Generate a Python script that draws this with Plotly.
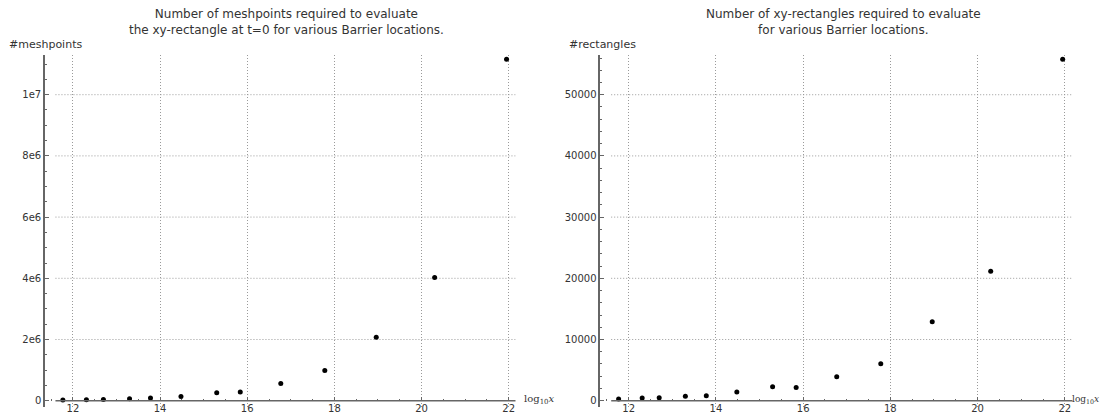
import plotly.graph_objects as go

# ---- data ----
log10_x = [11.77, 12.31, 12.70, 13.30, 13.78, 14.48, 15.30, 15.84, 16.77, 17.78, 18.96, 20.30, 21.95]
meshpoints = [20000, 30000, 40000, 65000, 85000, 140000, 260000, 283000, 565000,
              990000, 2075000, 4030000, 11160000]
rectangles = [270, 430, 490, 710, 820, 1410, 2280, 2170, 3910, 6030, 12900, 21150, 55800]

x_ticks = [12, 14, 16, 18, 20, 22]
mesh_ticks = [0, 2e6, 4e6, 6e6, 8e6, 1e7]
mesh_ticktext = ["0", "2e6", "4e6", "6e6", "8e6", "1e7"]
rect_ticks = [0, 10000, 20000, 30000, 40000, 50000]
rect_ticktext = ["0", "10000", "20000", "30000", "40000", "50000"]

title_left = "Number of meshpoints required to evaluate<br>the xy-rectangle at t=0 for various Barrier locations."
title_right = "Number of xy-rectangles required to evaluate<br>for various Barrier locations."
ylabel_left = "#meshpoints"
ylabel_right = "#rectangles"
xlabel = "log<sub>10</sub><i>x</i>"

# ---- layout constants ----
OFF = 8  # page body margin of the html page
W, H = 1112 - OFF, 416 - OFF
FONT = "DejaVu Sans, Verdana, sans-serif"
AXIS_COL = "#666666"
GRID_COL = "#9a9a9a"
TXT_COL = "#333333"
DOT = "1px,2px"

def px_x(p):
    return (p - OFF) / W

def px_y(p):
    return 1 - (p - OFF) / H

y_dom = [px_y(406.7), px_y(55)]
x_pos = px_y(400.7)

left_xrange = [11.36, 22.16]
right_xrange = [11.35, 22.18]
left_yrange = [-196000, 1.1297e7]
right_yrange = [-980, 56490]
grid_start = 11.6

fig = go.Figure()
fig.add_trace(go.Scatter(x=log10_x, y=meshpoints, mode="markers",
                         marker=dict(color="black", size=5), xaxis="x", yaxis="y",
                         showlegend=False, cliponaxis=False))
fig.add_trace(go.Scatter(x=log10_x, y=rectangles, mode="markers",
                         marker=dict(color="black", size=5), xaxis="x2", yaxis="y2",
                         showlegend=False, cliponaxis=False))

def xaxis_cfg(dom, rng):
    return dict(domain=dom, range=rng, anchor="free", position=x_pos,
                tickmode="array", tickvals=x_ticks, ticks="inside", ticklen=4,
                tickcolor=AXIS_COL, showline=False, zeroline=False,
                showgrid=True, gridcolor=GRID_COL, griddash=DOT, gridwidth=1,
                minor=dict(dtick=0.5, tick0=0, ticks="inside", ticklen=2,
                           tickcolor=AXIS_COL, showgrid=False),
                tickfont=dict(family=FONT, size=10, color=TXT_COL))

def yaxis_cfg(anchor, rng, vals, text, mdt):
    return dict(domain=y_dom, range=rng, anchor=anchor,
                tickmode="array", tickvals=vals, ticktext=text,
                ticks="inside", ticklen=4, tickcolor=AXIS_COL,
                showline=True, linecolor=AXIS_COL, linewidth=1.5,
                zeroline=False, showgrid=False,
                minor=dict(dtick=mdt, tick0=0, ticks="inside", ticklen=2,
                           tickcolor=AXIS_COL, showgrid=False),
                tickfont=dict(family=FONT, size=10, color=TXT_COL))

fig.update_layout(
    width=W, height=H, margin=dict(l=0, r=0, t=0, b=0),
    paper_bgcolor="white", plot_bgcolor="white",
    xaxis=xaxis_cfg([px_x(45), px_x(515.7)], left_xrange),
    xaxis2=xaxis_cfg([px_x(600.3), px_x(1072.7)], right_xrange),
    yaxis=yaxis_cfg("x", left_yrange, mesh_ticks, mesh_ticktext, 5e5),
    yaxis2=yaxis_cfg("x2", right_yrange, rect_ticks, rect_ticktext, 2000),
)

shapes = []
for xa, ya, ticks, rng in [("x", "y", mesh_ticks, left_xrange),
                           ("x2", "y2", rect_ticks, right_xrange)]:
    for v in ticks[1:]:
        shapes.append(dict(type="line", xref=xa, yref=ya, x0=grid_start, x1=rng[1],
                           y0=v, y1=v, line=dict(color=GRID_COL, width=1, dash=DOT),
                           layer="below"))
    shapes.append(dict(type="line", xref=xa, yref=ya, x0=grid_start, x1=rng[1],
                       y0=0, y1=0, line=dict(color=AXIS_COL, width=1.5)))
fig.update_layout(shapes=shapes)

ann = []
ann.append(dict(text=title_left, x=px_x(286), y=px_y(22), xref="paper", yref="paper",
                showarrow=False, xanchor="center", yanchor="middle",
                font=dict(family=FONT, size=12, color=TXT_COL)))
ann.append(dict(text=title_right, x=px_x(843), y=px_y(22), xref="paper", yref="paper",
                showarrow=False, xanchor="center", yanchor="middle",
                font=dict(family=FONT, size=12, color=TXT_COL)))
ann.append(dict(text=ylabel_left, x=px_x(7), y=px_y(44), xref="paper", yref="paper",
                showarrow=False, xanchor="left", yanchor="middle",
                font=dict(family=FONT, size=11, color=TXT_COL)))
ann.append(dict(text=ylabel_right, x=px_x(567), y=px_y(44), xref="paper", yref="paper",
                showarrow=False, xanchor="left", yanchor="middle",
                font=dict(family=FONT, size=11, color=TXT_COL)))
ann.append(dict(text=xlabel, x=px_x(522), y=px_y(399), xref="paper", yref="paper",
                showarrow=False, xanchor="left", yanchor="middle",
                font=dict(family="DejaVu Serif, Liberation Serif, serif", size=10, color=TXT_COL)))
ann.append(dict(text=xlabel, x=px_x(1101), y=px_y(399), xref="paper", yref="paper",
                showarrow=False, xanchor="right", yanchor="middle",
                font=dict(family="DejaVu Serif, Liberation Serif, serif", size=9, color=TXT_COL)))
fig.update_layout(annotations=ann)

fig.write_html("out.html")
